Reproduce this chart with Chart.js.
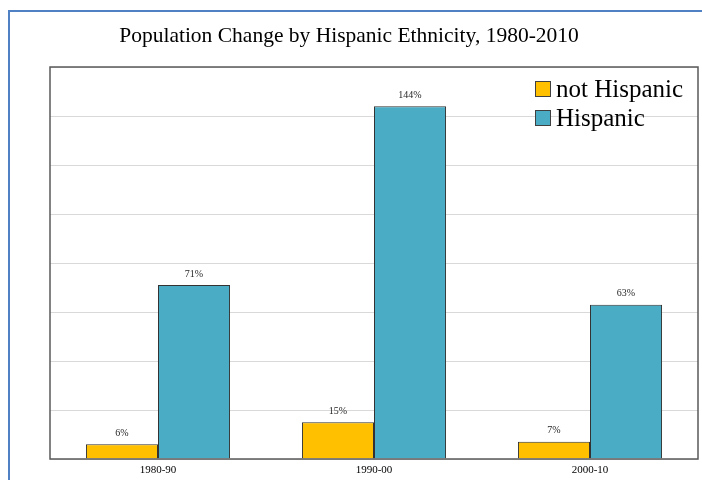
<!DOCTYPE html>
<html>
<head>
<meta charset="utf-8">
<script src="https://cdn.jsdelivr.net/npm/chart.js@4"></script>
<style>
  html, body { margin: 0; padding: 0; background: #fff; }
  #wrap { width: 702px; height: 480px; }
</style>
</head>
<body>
<div id="wrap"><canvas id="popChart" width="702" height="480"></canvas></div>
<script>
const categories = ['1980-90', '1990-00', '2000-10'];
const notHispanic = [6, 15, 7];
const hispanic = [71, 144, 63];
const seriesNames = ['not Hispanic', 'Hispanic'];
const yTicks = [0, 20, 40, 60, 80, 100, 120, 140, 160];

const serif = "'Liberation Serif', 'Times New Roman', serif";

// frame, title, outer border, legend and value labels
const decorations = {
    id: 'decorations',
    beforeDraw(chart) {
        const ctx = chart.ctx;
        ctx.save();
        ctx.fillStyle = '#fff';
        ctx.fillRect(0, 0, chart.width, chart.height);
        ctx.restore();
    },
    afterDraw(chart) {
        const ctx = chart.ctx;
        const area = chart.chartArea;
        ctx.save();

        // outer border
        ctx.strokeStyle = '#4f81c4';
        ctx.lineWidth = 2;
        ctx.strokeRect(9, 11, 900, 700);

        // plot frame
        ctx.strokeStyle = '#595959';
        ctx.lineWidth = 1.5;
        ctx.strokeRect(area.left, area.top, area.right - area.left, area.bottom - area.top);

        // title
        ctx.fillStyle = '#000';
        ctx.font = '21.5px ' + serif;
        ctx.textAlign = 'center';
        ctx.textBaseline = 'middle';
        ctx.fillText('Population Change by Hispanic Ethnicity, 1980-2010', 349, 36);

        // value labels
        ctx.font = '10px ' + serif;
        ctx.fillStyle = '#262626';
        ctx.textBaseline = 'bottom';
        chart.data.datasets.forEach((ds, i) => {
            chart.getDatasetMeta(i).data.forEach((bar, j) => {
                ctx.fillText(ds.data[j] + '%', bar.x, bar.y - 6);
            });
        });

        // legend
        ctx.font = '25px ' + serif;
        ctx.textAlign = 'left';
        ctx.textBaseline = 'middle';
        chart.data.datasets.forEach((ds, i) => {
            const y = 89 + i * 29;
            ctx.fillStyle = ds.backgroundColor;
            ctx.fillRect(536, y - 7, 15, 15);
            ctx.strokeStyle = '#404040';
            ctx.lineWidth = 1;
            ctx.strokeRect(535.5, y - 7.5, 15, 15);
            ctx.fillStyle = '#000';
            ctx.fillText(ds.label, 556, y + 1);
        });

        ctx.restore();
    }
};

new Chart(document.getElementById('popChart').getContext('2d'), {
    type: 'bar',
    data: {
        labels: categories,
        datasets: [{
            label: seriesNames[0],
            data: notHispanic,
            backgroundColor: '#ffc000',
            borderColor: '#333',
            borderWidth: 1,
            categoryPercentage: 0.667,
            barPercentage: 1.0
        }, {
            label: seriesNames[1],
            data: hispanic,
            backgroundColor: '#4bacc6',
            borderColor: '#333',
            borderWidth: 1,
            categoryPercentage: 0.667,
            barPercentage: 1.0
        }]
    },
    options: {
        responsive: false,
        animation: false,
        layout: {
            padding: { left: 50, right: 4, top: 67, bottom: 0 }
        },
        plugins: {
            legend: { display: false },
            title: { display: false },
            tooltip: { enabled: false }
        },
        scales: {
            x: {
                grid: { display: false, drawTicks: false },
                border: { display: false },
                ticks: {
                    color: '#000',
                    font: { family: serif, size: 11 },
                    padding: 5
                },
                afterFit(axis) {
                    axis.height = 21;
                }
            },
            y: {
                min: yTicks[0],
                max: yTicks[yTicks.length - 1],
                afterBuildTicks(axis) {
                    axis.ticks = yTicks.map(v => ({ value: v }));
                },
                grid: { color: '#d9d9d9', lineWidth: 1, drawTicks: false },
                border: { display: false },
                ticks: { display: false }
            }
        }
    },
    plugins: [decorations]
});
</script>
</body>
</html>
